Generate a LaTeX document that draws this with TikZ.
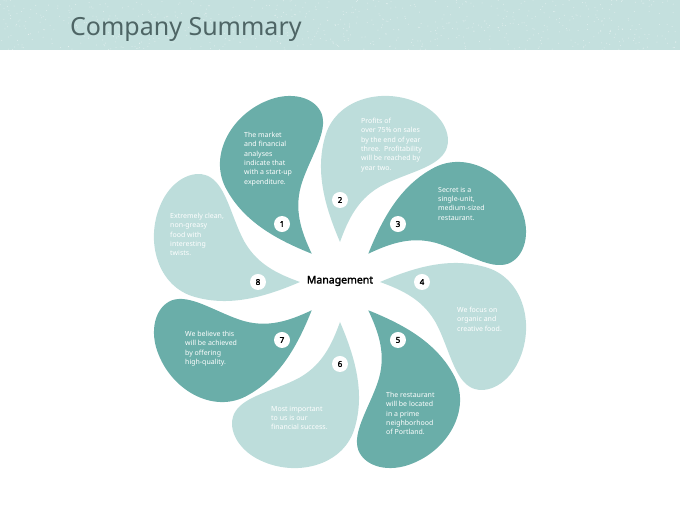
\documentclass[tikz,border=0pt]{standalone}
\usepackage{fontspec}
\setmainfont{Noto Sans}
\newfontfamily\heavyfont{Noto Sans}[FakeBold=2.2]
\definecolor{darkteal}{HTML}{6AAEA9}
\definecolor{lightteal}{HTML}{BDDDDB}
\definecolor{bandteal}{HTML}{C4E0DE}
\definecolor{titlegray}{HTML}{4E6565}

\begin{document}
\begin{tikzpicture}[x=1pt,y=1pt,
		petal text/.style={anchor=north west,align=left,inner sep=0pt,text=white,
			font=\fontsize{7}{9.3}\selectfont},
		num node/.style={circle,fill=white,inner sep=0pt,minimum size=16pt,
			font=\fontsize{8}{8}\selectfont\heavyfont},
		pics/petal/.style={code={
			\fill[#1] (40,0) .. controls (75,15) and (110,25) .. (145,15)
			.. controls (182,5) and (195,-40) .. (180,-76)
			.. controls (170,-101) and (148,-113) .. (132,-106)
			.. controls (115,-98) and (110,-70) .. (98,-45)
			.. controls (85,-18) and (62,-8) .. (40,0) -- cycle;}}]
		
		\useasboundingbox (-340,-228) rectangle (340,282);
		
		% header band
		\fill[bandteal] (-340,232) rectangle (340,282);
		\pgfmathsetseed{11}
		\foreach \k in {1,...,700}
		\fill[white,opacity=0.45] ({rnd*680-340},{232+rnd*50}) circle (0.5);
		\node[anchor=base west,inner sep=0pt,text=titlegray,
		font=\fontsize{25}{25}\selectfont] (title) at (-270,246) {Company Summary};
		
		% petals
		\pic[rotate=135] {petal=darkteal};
		\pic[rotate=90] {petal=lightteal};
		\pic[rotate=45] {petal=darkteal};
		\pic[rotate=0] {petal=lightteal};
		\pic[rotate=-45] {petal=darkteal};
		\pic[rotate=-90] {petal=lightteal};
		\pic[rotate=-135] {petal=darkteal};
		\pic[rotate=180] {petal=lightteal};
		
		\node[font=\fontsize{10.5}{10.5}\selectfont\heavyfont] (mgmt) at (0,1) {Management};
		
		\node[num node] (n1) at (135:82) {1};
		\node[num node] (n2) at (90:82) {2};
		\node[num node] (n3) at (45:82) {3};
		\node[num node] (n4) at (0:82) {4};
		\node[num node] (n5) at (-45:82) {5};
		\node[num node] (n6) at (-90:82) {6};
		\node[num node] (n7) at (-135:82) {7};
		\node[num node] (n8) at (180:82) {8};
		
		\node[petal text] (t1) at (-96,150) {The market\\and financial\\analyses\\indicate that\\with a start-up\\expenditure.};
		\node[petal text] (t2) at (21,164) {Profits of\\over 75\% on sales\\by the end of year\\three.\ \ Profitability\\will be reached by\\year two.};
		\node[petal text] (t3) at (98,95) {Secret is a\\single-unit,\\medium-sized\\restaurant.};
		\node[petal text] (t4) at (117,-25) {We focus on\\organic and\\creative food.};
		\node[petal text] (t5) at (46,-110) {The restaurant\\will be located\\in a prime\\neighborhood\\of Portland.};
		\node[petal text] (t6) at (-69,-124) {Most important\\to us is our\\financial success.};
		\node[petal text] (t7) at (-155,-49) {We believe this\\will be achieved\\by offering\\high-quality.};
		\node[petal text] (t8) at (-170,69) {Extremely clean,\\non-greasy\\food with\\interesting\\twists.};
\end{tikzpicture}
\end{document}
